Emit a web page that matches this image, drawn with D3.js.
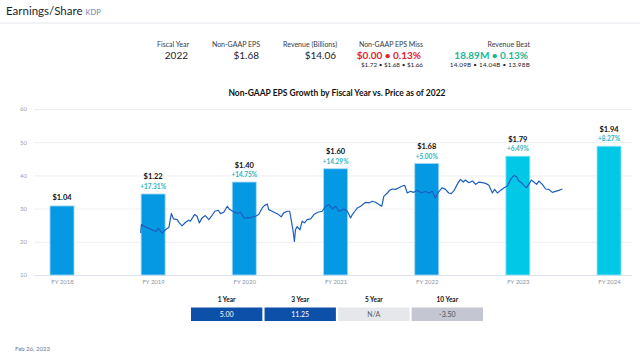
<!DOCTYPE html>
<html>
<head>
<meta charset="utf-8">
<script src="https://cdn.jsdelivr.net/npm/d3@7"></script>
<style>
  body { margin: 0; background: #fff; }
  svg { display: block; font-family: Lato, "Open Sans", sans-serif; }
</style>
</head>
<body>
<svg id="chart" width="640" height="362"></svg>
<script>
// fiscal years and non-GAAP EPS
var years = ['FY 2018', 'FY 2019', 'FY 2020', 'FY 2021', 'FY 2022', 'FY 2023', 'FY 2024'];
var yearDates = ['2017-08-20', '2018-08-20', '2019-08-20', '2020-08-20', '2021-08-20', '2022-08-20', '2023-08-20'];
var eps = [1.04, 1.22, 1.40, 1.60, 1.68, 1.79, 1.94];
var growth = [null, 17.31, 14.75, 14.29, 5.00, 6.49, 8.27];
var estimate = [false, false, false, false, false, true, true];

// share price
var price = [
    ['2018-07-01', 22.6], ['2018-07-04', 25.2], ['2018-07-20', 24.5], ['2018-08-16', 23.6],
    ['2018-09-01', 23.1], ['2018-09-09', 24.1], ['2018-09-25', 22.6], ['2018-10-11', 23.8],
    ['2018-10-22', 24.3], ['2018-11-01', 28.5], ['2018-11-10', 26.9], ['2018-11-24', 26.7],
    ['2018-12-03', 25.7], ['2018-12-14', 24.8], ['2018-12-27', 25.8], ['2019-01-09', 26.5],
    ['2019-01-16', 26.2], ['2019-02-02', 28.2], ['2019-02-12', 27.7], ['2019-02-21', 25.7],
    ['2019-03-04', 27.2], ['2019-03-17', 27.9], ['2019-03-31', 26.7], ['2019-04-11', 27.7],
    ['2019-04-24', 29.2], ['2019-05-08', 29.5], ['2019-05-17', 28.5], ['2019-05-30', 28.9],
    ['2019-06-13', 30.7], ['2019-06-23', 29.7], ['2019-07-05', 29.2], ['2019-07-23', 28.5],
    ['2019-08-05', 28.9], ['2019-08-19', 27.2], ['2019-09-08', 27.2], ['2019-10-04', 27.7],
    ['2019-10-17', 28.2], ['2019-10-31', 30.2], ['2019-11-09', 30.9], ['2019-11-20', 31.4],
    ['2019-11-26', 29.7], ['2019-12-10', 29.2], ['2019-12-23', 28.7], ['2020-01-05', 28.2],
    ['2020-01-15', 27.5], ['2020-01-25', 28.7], ['2020-02-08', 29.2], ['2020-02-18', 29.2],
    ['2020-02-24', 26.7], ['2020-03-03', 23.1], ['2020-03-08', 20.1], ['2020-03-12', 23.6],
    ['2020-03-19', 24.6], ['2020-03-30', 23.6], ['2020-04-08', 26.2], ['2020-04-17', 25.7],
    ['2020-04-28', 26.7], ['2020-05-12', 26.9], ['2020-05-25', 28.2], ['2020-06-10', 28.9],
    ['2020-06-27', 29.2], ['2020-07-11', 30.7], ['2020-07-24', 31.2], ['2020-08-07', 29.9],
    ['2020-08-20', 30.7], ['2020-09-02', 29.2], ['2020-09-22', 29.9], ['2020-10-06', 29.2],
    ['2020-10-19', 27.2], ['2020-10-26', 28.2], ['2020-11-05', 29.2], ['2020-11-15', 30.2],
    ['2020-11-28', 30.7], ['2020-12-18', 31.9], ['2021-01-01', 31.7], ['2021-01-14', 32.2],
    ['2021-01-27', 31.9], ['2021-02-10', 31.2], ['2021-02-21', 30.7], ['2021-03-01', 33.7],
    ['2021-03-15', 34.7], ['2021-03-24', 35.5], ['2021-04-04', 35.9], ['2021-04-17', 35.8],
    ['2021-04-30', 36.3], ['2021-05-14', 36.8], ['2021-05-24', 37.0], ['2021-06-03', 34.7],
    ['2021-06-16', 35.2], ['2021-06-29', 34.9], ['2021-07-13', 35.5], ['2021-07-30', 34.7],
    ['2021-08-15', 35.2], ['2021-08-28', 34.7], ['2021-09-11', 35.2], ['2021-09-24', 33.2],
    ['2021-10-05', 34.9], ['2021-10-21', 36.3], ['2021-11-03', 35.8], ['2021-11-16', 34.7],
    ['2021-11-26', 34.5], ['2021-12-08', 35.5], ['2021-12-20', 37.3], ['2022-01-02', 38.8],
    ['2022-01-13', 38.0], ['2022-01-22', 38.6], ['2022-02-05', 37.8], ['2022-02-19', 38.3],
    ['2022-03-04', 37.3], ['2022-03-17', 38.0], ['2022-03-31', 37.8], ['2022-04-13', 37.6],
    ['2022-04-26', 37.0], ['2022-05-10', 34.7], ['2022-05-19', 35.8], ['2022-05-30', 34.7],
    ['2022-06-12', 35.5], ['2022-06-26', 36.3], ['2022-07-09', 36.8], ['2022-07-22', 38.8],
    ['2022-08-04', 40.0], ['2022-08-15', 39.6], ['2022-08-24', 38.3], ['2022-09-03', 37.8],
    ['2022-09-13', 37.0], ['2022-09-24', 36.3], ['2022-10-03', 37.3], ['2022-10-13', 38.6],
    ['2022-10-23', 38.0], ['2022-11-03', 37.3], ['2022-11-12', 38.3], ['2022-11-26', 37.3],
    ['2022-12-09', 35.9], ['2022-12-22', 35.8], ['2023-01-05', 34.9], ['2023-01-18', 35.2],
    ['2023-01-31', 35.5], ['2023-02-14', 35.9]
];

var priceTicks = [10, 20, 30, 40, 50, 60];

// header stats
var statLabels = ['Fiscal Year', 'Non-GAAP EPS', 'Revenue (Billions)', 'Non-GAAP EPS Miss', 'Revenue Beat'];
var statValues = ['2022', '$1.68', '$14.06', '$0.00 • 0.13%', '18.89M • 0.13%'];
var statSubs = [null, null, null, '$1.72 • $1.68 • $1.66', '14.09B • 14.04B • 13.98B'];

// growth table
var periods = ['1 Year', '3 Year', '5 Year', '10 Year'];
var periodValues = ['5.00', '11.25', 'N/A', '-3.50'];

var parse = d3.timeParse('%Y-%m-%d');
var svg = d3.select('#chart');

var plotLeft = 34, plotRight = 632, plotTop = 109, plotBottom = 275;

// header
svg.append('text')
    .attr('x', 6).attr('y', 15)
    .attr('font-size', '11.5px')
    .attr('fill', '#1d2330')
    .text('Earnings/Share')
    .append('tspan')
    .attr('dx', 3)
    .attr('font-size', '7.5px')
    .attr('fill', '#6f7ea3')
    .text('KDP');

svg.append('line')
    .attr('x1', 0).attr('x2', 640)
    .attr('y1', 23).attr('y2', 23)
    .attr('stroke', '#e3e6eb');

var statX = [189, 260, 337, 423, 530];
var statColors = ['#1d2330', '#1d2330', '#1d2330', '#e8202a', '#17b897'];

statLabels.forEach(function(label, i) {
    svg.append('text')
        .attr('x', statX[i]).attr('y', 47)
        .attr('text-anchor', 'end')
        .attr('font-size', '7px')
        .attr('fill', '#333a46')
        .text(label);

    svg.append('text')
        .attr('x', statX[i] - (i >= 3 ? 2 : 1)).attr('y', 59)
        .attr('text-anchor', 'end')
        .attr('font-size', '10px')
        .attr('font-weight', i >= 3 ? 'bold' : 'normal')
        .attr('fill', statColors[i])
        .text(statValues[i]);

    if(statSubs[i]) {
        svg.append('text')
            .attr('x', statX[i]).attr('y', 67)
            .attr('text-anchor', 'end')
            .attr('font-size', '6.3px')
            .attr('letter-spacing', i === 4 ? '0.25px' : '0')
            .attr('fill', '#1d2330')
            .text(statSubs[i]);
    }
});

// chart title
svg.append('text')
    .attr('x', (plotLeft + 640) / 2).attr('y', 96)
    .attr('text-anchor', 'middle')
    .attr('font-size', '8.5px')
    .attr('font-weight', 'bold')
    .attr('fill', '#111')
    .text('Non-GAAP EPS Growth by Fiscal Year vs. Price as of 2022');

// scales
var x = d3.scaleTime()
    .domain([parse(yearDates[0]), parse(yearDates[yearDates.length - 1])])
    .range([62, 609]);

var y = d3.scaleLinear().domain([10, 60]).range([plotBottom, plotTop]);
var yEps = d3.scaleLinear().domain([0, 2.5]).range([plotBottom, plotTop]);

// grid / y axis
var yAxis = svg.append('g')
    .attr('transform', 'translate(' + plotLeft + ',0)')
    .call(d3.axisLeft(y).tickValues(priceTicks).tickSize(-(plotRight - plotLeft)).tickPadding(7));

yAxis.select('.domain').remove();
yAxis.selectAll('line').attr('stroke', function(d) { return d === 10 ? '#dde2ea' : '#eceef2'; });
yAxis.selectAll('text')
    .attr('font-family', 'Lato, sans-serif')
    .attr('font-size', '6px')
    .attr('fill', '#9aa1ae');

// x axis
var xAxis = svg.append('g')
    .attr('transform', 'translate(0,' + plotBottom + ')')
    .call(d3.axisBottom(x)
        .tickValues(yearDates.map(parse))
        .tickFormat(function(d, i) { return years[i]; })
        .tickSize(0)
        .tickPadding(5));

xAxis.select('.domain').remove();
xAxis.selectAll('text')
    .attr('font-family', 'Lato, sans-serif')
    .attr('font-size', '6px')
    .attr('fill', '#8d94a3');

// bars
var barWidth = 24;

svg.append('g').selectAll('rect')
    .data(eps)
    .join('rect')
    .attr('x', function(d, i) { return x(parse(yearDates[i])) - barWidth / 2; })
    .attr('y', function(d) { return yEps(d); })
    .attr('width', barWidth)
    .attr('height', function(d) { return plotBottom - yEps(d); })
    .attr('fill', function(d, i) { return estimate[i] ? '#02c8e8' : '#0599e3'; })
    .attr('stroke', function(d, i) { return estimate[i] ? '#9be6f4' : '#a6d8f5'; })
    .attr('stroke-width', 0.8);

// bar labels
var labels = svg.append('g');

eps.forEach(function(d, i) {
    var cx = x(parse(yearDates[i])),
        barTop = yEps(d);

    labels.append('text')
        .attr('x', cx)
        .attr('y', barTop - (growth[i] === null ? 8 : 17) + 2.5)
        .attr('text-anchor', 'middle')
        .attr('font-size', '7.5px')
        .attr('font-weight', 'bold')
        .attr('fill', '#111')
        .text('$' + d.toFixed(2));

    if(growth[i] !== null) {
        labels.append('text')
            .attr('x', cx)
            .attr('y', barTop - 7 + 2.3)
            .attr('text-anchor', 'middle')
            .attr('font-size', '6.5px')
            .attr('font-weight', 'bold')
            .attr('fill', '#2fb3bd')
            .text('+' + growth[i].toFixed(2) + '%');
    }
});

// price line
var line = d3.line()
    .x(function(d) { return x(parse(d[0])); })
    .y(function(d) { return y(d[1]); });

svg.append('path')
    .datum(price)
    .attr('d', line)
    .attr('fill', 'none')
    .attr('stroke', '#1c5fbd')
    .attr('stroke-width', 1.2)
    .attr('stroke-linejoin', 'round');

// growth table
var cellX = d3.scaleBand().domain(periods).range([191, 483]).paddingInner(0.03);
var cellFill = ['#0c50a9', '#0c50a9', '#e6e7eb', '#c4c6d1'];
var cellText = ['#fff', '#fff', '#5b606b', '#4b505b'];

periods.forEach(function(p, i) {
    svg.append('text')
        .attr('x', cellX(p) + cellX.bandwidth() / 2).attr('y', 302)
        .attr('text-anchor', 'middle')
        .attr('font-size', '6.5px')
        .attr('font-weight', 'bold')
        .attr('fill', '#111')
        .text(p);

    svg.append('rect')
        .attr('x', cellX(p)).attr('y', 307.5)
        .attr('width', cellX.bandwidth()).attr('height', 13.5)
        .attr('fill', cellFill[i]);

    svg.append('text')
        .attr('x', cellX(p) + cellX.bandwidth() / 2).attr('y', 316.5)
        .attr('text-anchor', 'middle')
        .attr('font-size', '7px')
        .attr('fill', cellText[i])
        .text(periodValues[i]);
});

svg.append('text')
    .attr('x', 15).attr('y', 351)
    .attr('font-size', '6px')
    .attr('fill', '#6b7894')
    .text('Feb 26, 2023');
</script>
</body>
</html>
